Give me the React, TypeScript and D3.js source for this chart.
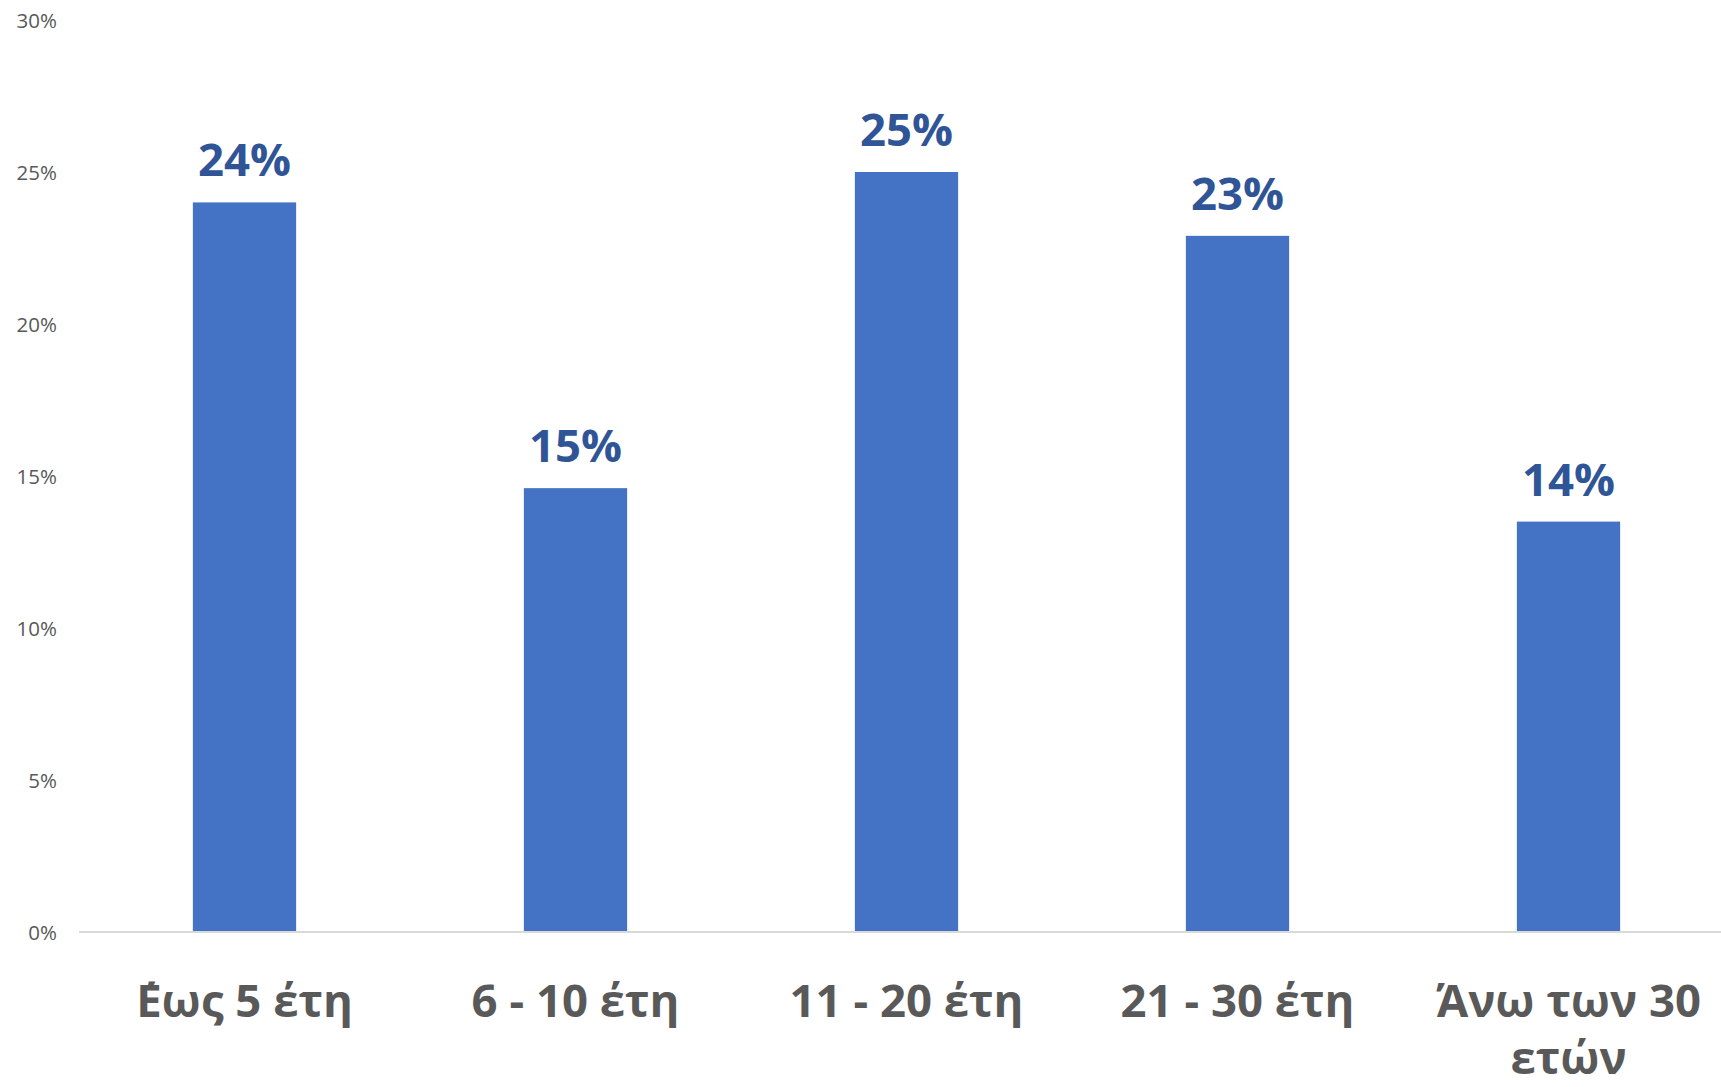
import React, { useRef, useEffect } from 'react'
import * as d3 from 'd3'

const width = 1721
const height = 1087

const categories = ['΄Εως 5 έτη', '6 - 10 έτη', '11 - 20 έτη', '21 - 30 έτη', 'Άνω των 30 ετών']
const shares = [0.24, 0.146, 0.25, 0.229, 0.135]
const shareLabels = ['24%', '15%', '25%', '23%', '14%']
const yTicks = [0, 0.05, 0.1, 0.15, 0.2, 0.25, 0.3]

const margin = { left: 79, right: -13, top: 20, bottom: 155 }
const fontFamily = '"Open Sans", "Noto Sans", sans-serif'

const App: React.FC = () => {
  const svgRef = useRef<SVGSVGElement>(null)

  useEffect(() => {
    if (!svgRef.current) return
    const svg = d3.select(svgRef.current)
    svg.selectAll('*').remove()

    const x = d3.scaleBand()
      .domain(categories)
      .range([margin.left, width - margin.right])
      .paddingInner(0.688)
      .paddingOuter(0.344)

    const y = d3.scaleLinear()
      .domain([0, 0.3])
      .range([height - margin.bottom, margin.top])

    // y tick labels only, no gridlines
    const yAxis = svg.append('g')
      .attr('transform', `translate(${margin.left - 22},0)`)
      .call(d3.axisLeft(y).tickValues(yTicks).tickFormat(d3.format('.0%')).tickSize(0).tickPadding(0))
    yAxis.select('.domain').remove()
    yAxis.selectAll('text')
      .attr('font-family', fontFamily)
      .attr('font-size', 20.5)
      .attr('fill', '#595959')
      .attr('dy', '0.35em')

    svg.append('g')
      .selectAll('rect')
      .data(categories)
      .join('rect')
      .attr('x', (d) => x(d) || 0)
      .attr('y', (_, i) => y(shares[i]))
      .attr('width', x.bandwidth())
      .attr('height', (_, i) => y(0) - y(shares[i]))
      .attr('fill', '#4472C4')

    svg.append('line')
      .attr('x1', margin.left)
      .attr('x2', width)
      .attr('y1', y(0))
      .attr('y2', y(0))
      .attr('stroke', '#D9D9D9')
      .attr('stroke-width', 2)

    svg.append('g')
      .selectAll('text')
      .data(categories)
      .join('text')
      .attr('x', (d) => (x(d) || 0) + x.bandwidth() / 2)
      .attr('y', (_, i) => y(shares[i]) - 26)
      .attr('text-anchor', 'middle')
      .attr('font-family', fontFamily)
      .attr('font-weight', 700)
      .attr('font-size', 45.5)
      .attr('fill', '#2F5597')
      .text((_, i) => shareLabels[i])

    // category labels, wrapped to the band step
    const maxW = x.step() * 0.9
    const labels = svg.append('g')
      .selectAll('text')
      .data(categories)
      .join('text')
      .attr('x', (d) => (x(d) || 0) + x.bandwidth() / 2)
      .attr('y', y(0) + 85)
      .attr('text-anchor', 'middle')
      .attr('font-family', fontFamily)
      .attr('font-weight', 700)
      .attr('font-size', 45.5)
      .attr('fill', '#595959')

    labels.each(function (d) {
      const text = d3.select(this)
      const cx = text.attr('x')
      const words = d.split(' ')
      let line: string[] = []
      let tspan = text.append('tspan').attr('x', cx).attr('dy', 0)
      words.forEach((w) => {
        line.push(w)
        tspan.text(line.join(' '))
        const node = tspan.node()
        if (node && node.getComputedTextLength() > maxW && line.length > 1) {
          line.pop()
          tspan.text(line.join(' '))
          line = [w]
          tspan = text.append('tspan').attr('x', cx).attr('dy', 57).text(w)
        }
      })
    })
  }, [])

  return (
    <div>
      <style>{'body { margin: 0; background: #fff; }'}</style>
      <svg ref={svgRef} width={width} height={height} style={{ display: 'block' }} />
    </div>
  )
}

export default App
